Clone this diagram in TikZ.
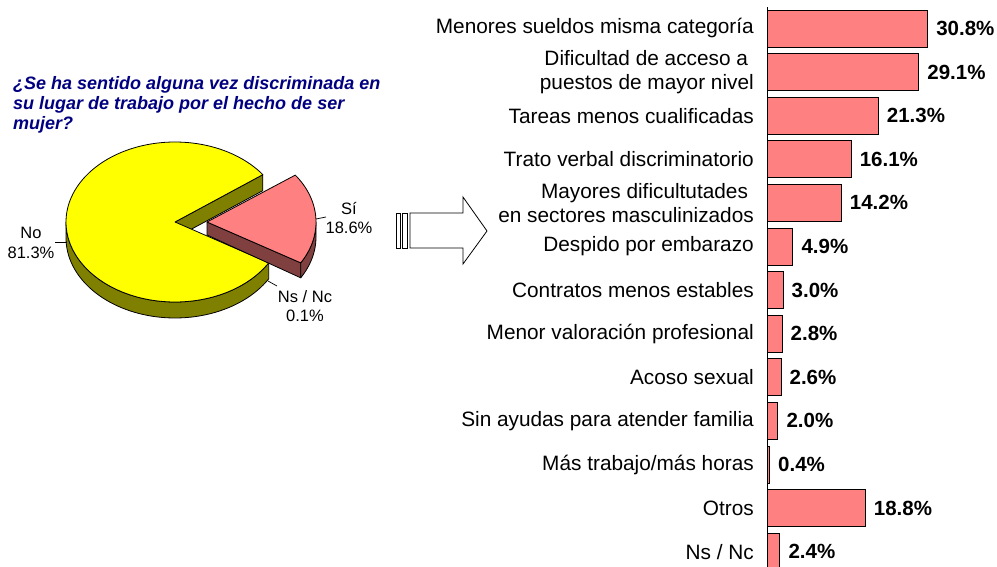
\documentclass[tikz,border=0pt]{standalone}
\usepackage{fontspec}
\setmainfont{Liberation Sans}
\definecolor{barpink}{RGB}{255,128,128}
\definecolor{sidered}{RGB}{128,64,64}
\definecolor{pieyellow}{RGB}{255,255,0}
\definecolor{pieolive}{RGB}{128,128,0}
\definecolor{titlenavy}{RGB}{0,0,128}
\tikzset{
  barbox/.style={draw=black, line width=0.9pt, fill=barpink, inner sep=0pt, minimum height=37pt, anchor=west},
  catlabel/.style={anchor=east, inner sep=0pt, align=right, font=\fontsize{20.8}{24}\selectfont},
  vallabel/.style={anchor=west, inner sep=0pt, font=\fontsize{20.5}{24}\selectfont\bfseries},
  pielabel/.style={inner sep=0pt, align=center, font=\fontsize{16.5}{19.5}\selectfont},
  pieedge/.style={draw=black, line width=0.8pt, line join=round},
  leader/.style={draw=black, line width=0.7pt},
}
\begin{document}
\begin{tikzpicture}[x=1pt, y=-1pt]
\useasboundingbox (0,0) rectangle (997,567);
% ---------- title ----------
\node[anchor=north west, inner sep=0pt, align=left, text=titlenavy,
      font=\fontsize{18}{20}\selectfont\bfseries\itshape] (title) at (13,76)
  {¿Se ha sentido alguna vez discriminada en\\su lugar de trabajo por el hecho de ser\\mujer?};
% ---------- pie: No slice ----------
% outer side wall
\path[pieedge, fill=pieolive]
  plot[domain=180:329.3, samples=60] ({175+109*cos(\x)},{222-80*sin(\x)})
  -- plot[domain=329.3:180, samples=60] ({175+109*cos(\x)},{238-80*sin(\x)}) -- cycle;
% cut face at 36.3 deg
\path[pieedge, fill=pieolive]
  (175,222) -- ({175+109*cos(36.3)},{222-80*sin(36.3)})
  -- ({175+109*cos(36.3)},{238-80*sin(36.3)}) -- (175,238) -- cycle;
% top
\path[pieedge, fill=pieyellow]
  (175,222) -- plot[domain=36.3:329.3, samples=120] ({175+109*cos(\x)},{222-80*sin(\x)}) -- cycle;
% ---------- pie: Si slice (exploded) ----------
\path[pieedge, fill=sidered]
  (207,222) -- ({207+109*cos(-30.7)},{222-80*sin(-30.7)})
  -- ({207+109*cos(-30.7)},{237-80*sin(-30.7)}) -- (207,235) -- cycle;
\path[pieedge, fill=sidered]
  plot[domain=-30.7:0, samples=30] ({207+109*cos(\x)},{222-80*sin(\x)})
  -- plot[domain=0:-30.7, samples=30] ({207+109*cos(\x)},{237-80*sin(\x)}) -- cycle;
\path[pieedge, fill=barpink]
  (207,222) -- plot[domain=-30.7:35.9, samples=50] ({207+109*cos(\x)},{222-80*sin(\x)}) -- cycle;
% ---------- pie labels ----------
\node[pielabel] (lno) at (31,243) {No\\81.3\%};
\node[pielabel] (lsi) at (349,218) {Sí\\18.6\%};
\node[pielabel] (lns) at (305,306) {Ns / Nc\\0.1\%};
\coordinate (noa) at (55,242);  \coordinate (nob) at (67,242);
\coordinate (sia) at (316,219); \coordinate (sib) at (326,217);
\coordinate (nsa) at (268,281); \coordinate (nsb) at (277,286);
\draw[leader] (noa) -- (nob);
\draw[leader] (sia) -- (sib);
\draw[leader] (nsa) -- (nsb);
% ---------- block arrow ----------
\draw[line width=0.8pt, fill=white] (396,213) rectangle (400,248);
\draw[line width=0.8pt, fill=white] (402,213) rectangle (407,248);
\draw[line width=0.8pt, fill=white, line join=miter]
  (410,213) -- (463,213) -- (463,197) -- (487,231) -- (463,264) -- (463,248) -- (410,248) -- cycle;
% ---------- bar chart ----------
\foreach \v/\t [count=\i from 0, evaluate=\i as \y using 28.5+43.6*\i] in {
  30.8/{Menores sueldos misma categoría},
  29.1/{Dificultad de acceso a\hspace*{.28em}\\puestos de mayor nivel},
  21.3/{Tareas menos cualificadas},
  16.1/{Trato verbal discriminatorio},
  14.2/{Mayores dificultutades\hspace*{.28em}\\en sectores masculinizados},
  4.9/{Despido por embarazo},
  3.0/{Contratos menos estables},
  2.8/{Menor valoración profesional},
  2.6/{Acoso sexual},
  2.0/{Sin ayudas para atender familia},
  0.4/{Más trabajo/más horas},
  18.8/{Otros},
  2.4/{Ns / Nc}}
{
  \node[barbox, minimum width={\v*5.2pt}] (b\i) at (767,\y) {};
  \node[catlabel] (c\i) at (754,\y) {\t};
  \node[vallabel] (v\i) at ([xshift=8pt]b\i.east) {\v\%};
}
\coordinate (axtop) at (767,7);
\coordinate (axbot) at (767,567);
\draw[line width=1pt] (axtop) -- (axbot);
\end{tikzpicture}
\end{document}
